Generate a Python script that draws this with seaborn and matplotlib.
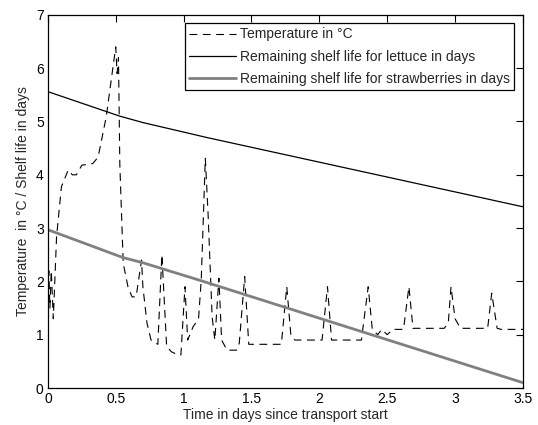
import numpy as np
import pandas as pd
import seaborn as sns
import matplotlib.pyplot as plt

# temperature trace
temp_time = [0.0, 0.007, 0.015, 0.025, 0.04, 0.064, 0.1, 0.15, 0.18, 0.21, 0.25, 0.33, 0.37,
             0.43, 0.47, 0.50, 0.51, 0.52, 0.53, 0.555, 0.59, 0.62, 0.65, 0.69, 0.70, 0.73,
             0.76, 0.81, 0.84, 0.875, 0.91, 0.96, 0.98, 1.01, 1.03, 1.07, 1.11, 1.13, 1.16,
             1.18, 1.21, 1.23, 1.26, 1.28, 1.32, 1.39, 1.41, 1.45, 1.48, 1.72, 1.76, 1.79,
             1.82, 2.02, 2.06, 2.09, 2.12, 2.31, 2.36, 2.39, 2.43, 2.46, 2.5, 2.54, 2.62,
             2.66, 2.69, 2.72, 2.92, 2.95, 2.97, 3.0, 3.04, 3.24, 3.27, 3.31, 3.34, 3.5]
temp_vals = [1.9, 2.2, 1.5, 2.2, 1.3, 2.84, 3.78, 4.09, 4.0, 4.0, 4.18, 4.21, 4.33,
             5.09, 5.84, 6.4, 5.9, 6.2, 4.2, 2.34, 1.9, 1.71, 1.71, 2.4, 1.9, 1.22,
             0.9, 0.82, 2.5, 0.78, 0.68, 0.62, 0.62, 1.9, 0.9, 1.15, 1.3, 2.03, 4.31,
             3.28, 1.34, 0.9, 2.06, 0.9, 0.71, 0.71, 0.84, 2.09, 0.82, 0.82, 1.9, 1.0,
             0.9, 0.9, 1.9, 0.9, 0.9, 0.9, 1.9, 1.1, 1.0, 1.1, 1.0, 1.1, 1.1,
             1.9, 1.12, 1.12, 1.12, 1.22, 1.9, 1.3, 1.12, 1.12, 1.78, 1.12, 1.1, 1.1]

lettuce_time = [0.0, 0.53, 0.70, 1.17, 3.5]
lettuce_vals = [5.56, 5.1, 4.98, 4.7, 3.4]

straw_time = [0.0, 0.55, 0.70, 1.12, 3.5]
straw_vals = [2.97, 2.45, 2.35, 2.02, 0.1]

sns.set_style("white")
plt.rcParams['font.family'] = ['Liberation Sans', 'DejaVu Sans']

fig = plt.figure(figsize=(5.38, 4.25), dpi=100)
ax = fig.add_axes([0.089, 0.087, 0.883, 0.878])

sns.lineplot(x=temp_time, y=temp_vals, ax=ax, color="black", linewidth=0.8,
             label="Temperature in °C")
ax.lines[-1].set_linestyle((0, (7, 5)))
sns.lineplot(x=lettuce_time, y=lettuce_vals, ax=ax, color="black", linewidth=0.9,
             label="Remaining shelf life for lettuce in days")
sns.lineplot(x=straw_time, y=straw_vals, ax=ax, color="#808080", linewidth=2,
             label="Remaining shelf life for strawberries in days")

ax.set_xlim(0, 3.5)
ax.set_ylim(0, 7)
ax.set_xticks([0, 0.5, 1, 1.5, 2, 2.5, 3, 3.5])
ax.set_xticklabels(["0", "0.5", "1", "1.5", "2", "2.5", "3", "3.5"])
ax.set_yticks(range(8))
ax.tick_params(direction="in", top=True, right=True, length=5, width=0.8,
               labelsize=10, colors="black", pad=3)
for s in ax.spines.values():
    s.set_color("black")
    s.set_linewidth(0.9)

ax.set_xlabel("Time in days since transport start", fontsize=10, labelpad=1)
ax.set_ylabel("Temperature  in °C / Shelf life in days", fontsize=10, labelpad=4)

leg = ax.legend(loc="upper right", bbox_to_anchor=(0.988, 0.985), fontsize=10,
                handlelength=3.4, handletextpad=0.3, borderpad=0.3, labelspacing=0.6,
                fancybox=False, framealpha=1, edgecolor="black", borderaxespad=0.2)
leg.get_frame().set_linewidth(0.9)

fig.savefig("out.png", dpi=100)
